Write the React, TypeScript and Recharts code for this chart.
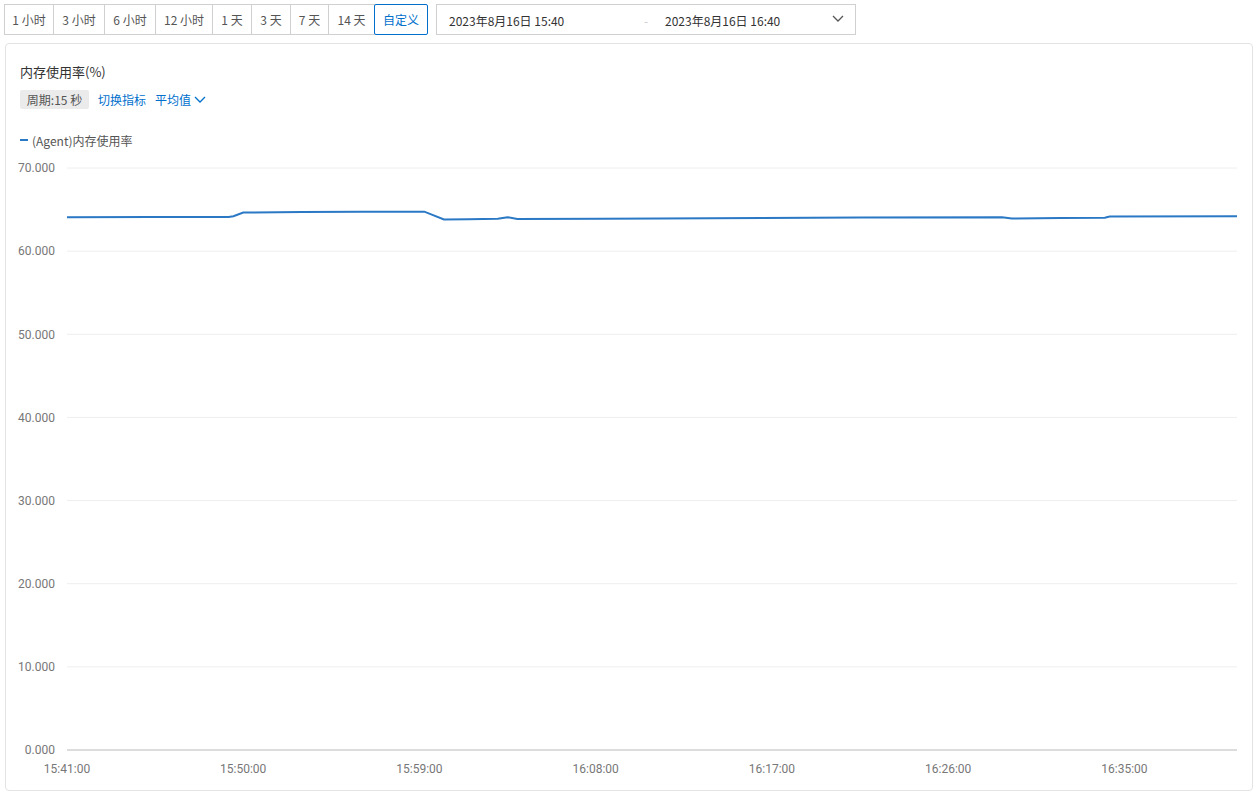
import React from "react";
import { LineChart, Line, XAxis, YAxis, CartesianGrid } from "recharts";

const seriesName = "(Agent)内存使用率";
const times = [
  "15:41:00", "15:45:15", "15:49:15", "15:49:30", "15:50:00", "15:53:00", "15:56:00",
  "15:59:15", "16:00:15", "16:01:30", "16:03:00", "16:03:30", "16:04:00", "16:08:15",
  "16:11:15", "16:16:30", "16:21:30", "16:28:45", "16:29:15", "16:31:45", "16:34:00",
  "16:34:15", "16:40:45",
];
const values = [
  64.07, 64.1, 64.11, 64.2, 64.65, 64.7, 64.75,
  64.75, 63.8, 63.85, 63.9, 64.08, 63.88, 63.9,
  63.92, 64.0, 64.05, 64.07, 63.92, 63.98, 64.02,
  64.17, 64.2,
];
const xTickLabels = ["15:41:00", "15:50:00", "15:59:00", "16:08:00", "16:17:00", "16:26:00", "16:35:00"];
const yTicks = [0, 10, 20, 30, 40, 50, 60, 70];
const rangeButtons = ["1 小时", "3 小时", "6 小时", "12 小时", "1 天", "3 天", "7 天", "14 天", "自定义"];
const buttonWidths = [49, 51, 51, 57, 39, 39, 38, 46, 53];
const startLabel = "2023年8月16日 15:40";
const endLabel = "2023年8月16日 16:40";

const toSec = (s: string) => {
  const [h, m, sec] = s.split(":").map(Number);
  return h * 3600 + m * 60 + sec;
};
const fmt = (sec: number) => {
  const h = Math.floor(sec / 3600);
  const m = Math.floor((sec % 3600) / 60);
  const s = sec % 60;
  const p = (n: number) => String(n).padStart(2, "0");
  return `${p(h)}:${p(m)}:${p(s)}`;
};

const data = times.map((t, i) => ({ t: toSec(t), v: values[i] }));
const xTicks = xTickLabels.map(toSec);

const FONT = "'Noto Sans CJK SC', 'Noto Sans', sans-serif";
const BLUE = "#0070cc";

export default function App() {
  let bx = 4;
  return (
    <div style={{ position: "absolute", left: 0, top: 0, width: 1258, height: 796, background: "#fff", fontFamily: FONT, fontSize: 12, color: "#555" }}>
      {rangeButtons.map((b, i) => {
        const left = bx;
        bx += buttonWidths[i];
        const active = i === rangeButtons.length - 1;
        return (
          <div key={b} style={{
            position: "absolute", left, top: 4, width: buttonWidths[i] - 1, height: 29,
            border: `1px solid ${active ? BLUE : "#d0d0d0"}`, borderRadius: active ? 2 : 0,
            display: "flex", alignItems: "center", justifyContent: "center",
            color: active ? BLUE : "#555", fontSize: 12, zIndex: active ? 2 : 1, background: "#fff",
          }}>{b}</div>
        );
      })}
      <div style={{ position: "absolute", left: 436, top: 4, width: 418, height: 29, border: "1px solid #d0d0d0", fontSize: 12, color: "#333" }}>
        <span style={{ position: "absolute", left: 12, top: 7 }}>{startLabel}</span>
        <span style={{ position: "absolute", left: 207, top: 7, color: "#ccc" }}>-</span>
        <span style={{ position: "absolute", left: 228, top: 7 }}>{endLabel}</span>
        <svg style={{ position: "absolute", left: 395, top: 10 }} width="12" height="8" viewBox="0 0 12 8">
          <polyline points="1,1 6,6 11,1" fill="none" stroke="#555" strokeWidth="1.3" />
        </svg>
      </div>
      <div style={{ position: "absolute", left: 5, top: 43, width: 1246, height: 746, border: "1px solid #e3e3e3", borderRadius: 4 }} />
      <div style={{ position: "absolute", left: 20, top: 62, fontSize: 13, color: "#333" }}>内存使用率(%)</div>
      <div style={{ position: "absolute", left: 20, top: 90, width: 69, height: 19, background: "#ebebeb", borderRadius: 2, fontSize: 12, color: "#555", display: "flex", alignItems: "center", justifyContent: "center" }}>周期:15 秒</div>
      <div style={{ position: "absolute", left: 98, top: 91, fontSize: 12, color: BLUE }}>切换指标</div>
      <div style={{ position: "absolute", left: 155, top: 91, fontSize: 12, color: BLUE }}>平均值</div>
      <svg style={{ position: "absolute", left: 194, top: 96 }} width="12" height="8" viewBox="0 0 12 8">
        <polyline points="1,1 6,6 11,1" fill="none" stroke={BLUE} strokeWidth="1.3" />
      </svg>
      <div style={{ position: "absolute", left: 20, top: 139, width: 8, height: 2, background: "#2b78c5" }} />
      <div style={{ position: "absolute", left: 32, top: 132, fontSize: 12, color: "#555" }}>{seriesName}</div>
      <div style={{ position: "absolute", left: 5, top: 150 }}>
        <LineChart width={1248} height={640} data={data} margin={{ top: 18, right: 16, bottom: 10, left: 2 }}>
          <CartesianGrid horizontal vertical={false} stroke="#eeeeee" />
          <XAxis
            dataKey="t"
            type="number"
            domain={[toSec(times[0]), toSec(times[times.length - 1])]}
            ticks={xTicks}
            tickFormatter={(v: number) => fmt(v)}
            tickLine={false}
            tickSize={0}
            tickMargin={14}
            height={30}
            axisLine={{ stroke: "#dcdcdc", strokeWidth: 2 }}
            tick={{ fill: "#777", fontSize: 12, fontFamily: "Roboto, sans-serif" }}
          />
          <YAxis
            type="number"
            domain={[0, 70]}
            ticks={yTicks}
            tickFormatter={(v: number) => v.toFixed(3)}
            axisLine={false}
            tickLine={false}
            tickSize={0}
            tickMargin={12}
            width={60}
            tick={{ fill: "#777", fontSize: 12, fontFamily: "Roboto, sans-serif" }}
          />
          <Line type="linear" dataKey="v" stroke="#2b78c5" strokeWidth={2} dot={false} isAnimationActive={false} />
        </LineChart>
      </div>
    </div>
  );
}
